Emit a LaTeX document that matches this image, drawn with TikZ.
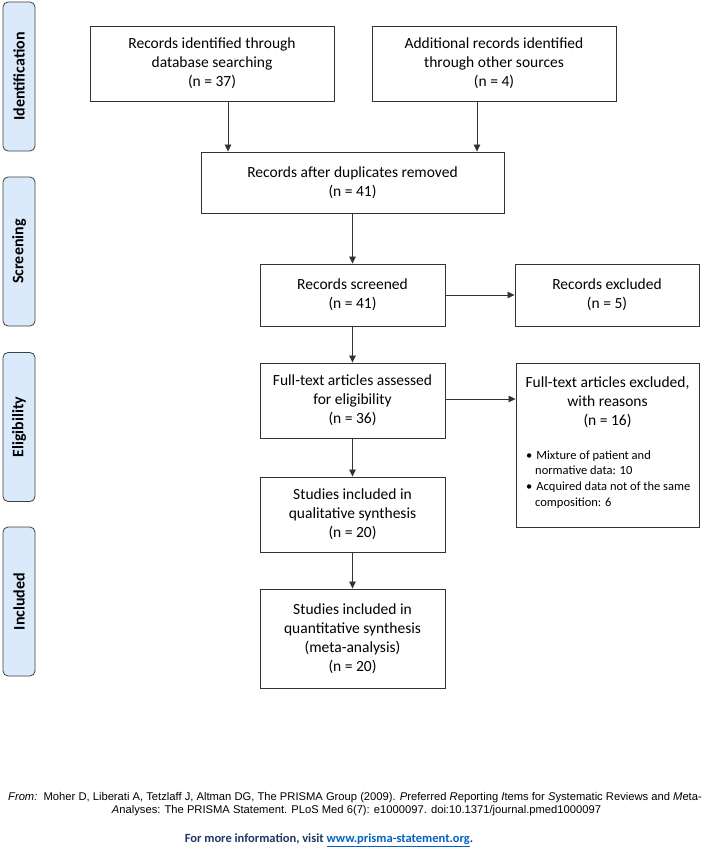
\documentclass[tikz,border=0pt]{standalone}
\usepackage{fontspec}
\setmainfont{Carlito}
\newfontfamily\arialf{Liberation Sans}
\usetikzlibrary{arrows.meta}
\definecolor{phasefill}{RGB}{218,234,251}
\definecolor{navy}{RGB}{31,56,100}
\definecolor{linkblue}{RGB}{5,99,193}
\begin{document}
\begin{tikzpicture}[x=1pt,y=-1pt,
  box/.style={draw=black!80, line width=0.9pt, fill=white, align=center,
    font=\fontsize{15.5}{19}\selectfont, inner sep=0pt},
  phasebox/.style={draw=black!75, line width=0.8pt, fill=phasefill, rounded corners=5pt,
    minimum width=32pt, minimum height=149pt, inner sep=0pt},
  phasetext/.style={rotate=90, font=\bfseries\fontsize{16}{18}\selectfont},
  arr/.style={-{Triangle[length=7pt,width=6.5pt]}, line width=0.8pt, draw=black!80}]
\useasboundingbox[fill=white] (0,0) rectangle (704,848);

% phase labels
\node[phasebox] (p1) at (19,76.5) {};
\node[phasetext] (p1t) at (p1) {Identification};
\node[phasebox] (p2) at (19,251.5) {};
\node[phasetext] (p2t) at (p2) {Screening};
\node[phasebox] (p3) at (19,427) {};
\node[phasetext] (p3t) at (p3) {Eligibility};
\node[phasebox] (p4) at (19,601.5) {};
\node[phasetext] (p4t) at (p4) {Included};

% boxes
\node[box, minimum width=244pt, minimum height=75pt] (A) at (212,63.5)
  {Records identified through\\database searching\\(n = 37)};
\node[box, minimum width=244pt, minimum height=75pt] (B) at (494,63.5)
  {Additional records identified\\through other sources\\(n = 4)};
\node[box, minimum width=303pt, minimum height=61pt] (C) at (352.5,182.5)
  {Records after duplicates removed\\(n = 41)};
\node[box, minimum width=185pt, minimum height=62pt] (D) at (352.5,295)
  {Records screened\\(n = 41)};
\node[box, minimum width=184pt, minimum height=62pt] (E) at (607,295)
  {Records excluded\\(n = 5)};
\node[box, minimum width=185pt, minimum height=75pt] (F) at (352.5,400.5)
  {Full-text articles assessed\\for eligibility\\(n = 36)};
\node[box, minimum width=183pt, minimum height=164pt] (G) at (607.5,445) {};
\node[align=center, font=\fontsize{15.5}{19}\selectfont, inner sep=0pt] (Gt) at (607.5,402)
  {Full-text articles excluded,\\with reasons\\(n = 16)};
\node[align=left, anchor=west, font=\fontsize{12.5}{15.7}\selectfont, inner sep=0pt] (Gb) at (526,479.5)
  {\textbullet\hspace{4pt}Mixture of patient and\\
   \hspace*{9pt}normative data: 10\\
   \textbullet\hspace{4pt}Acquired data not of the same\\
   \hspace*{9pt}composition: 6};
\node[box, minimum width=185pt, minimum height=75pt] (H) at (352.5,514.5)
  {Studies included in\\qualitative synthesis\\(n = 20)};
\node[box, minimum width=185pt, minimum height=99pt] (I) at (352.5,638.5)
  {Studies included in\\quantitative synthesis\\(meta-analysis)\\(n = 20)};

% connectors
\draw[arr] ([xshift=16pt]A.south) -- ([xshift=16pt]A.south |- C.north);
\draw[arr] ([xshift=-17pt]B.south) -- ([xshift=-17pt]B.south |- C.north);
\draw[arr] (C.south) -- (D.north);
\draw[arr] (D.east) -- (E.west);
\draw[arr] (D.south) -- (F.north);
\draw[arr] ([yshift=1.5pt]F.east) -- ([yshift=1.5pt]F.east -| G.west);
\draw[arr] (F.south) -- (H.north);
\draw[arr] (H.south) -- (I.north);

% footnote
\node[anchor=west, inner sep=0pt, font=\arialf\fontsize{11.2}{13}\selectfont] (f1) at (8,798)
  {\textit{From:}\ \ Moher D, Liberati A, Tetzlaff J, Altman DG, The PRISMA Group (2009). \textit{P}referred \textit{R}eporting \textit{I}tems for \textit{S}ystematic Reviews and \textit{M}eta-};
\node[inner sep=0pt, font=\arialf\fontsize{11.2}{13}\selectfont] (f2) at (356.5,811)
  {\textit{A}nalyses: The PRISMA Statement. PLoS Med 6(7): e1000097. doi:10.1371/journal.pmed1000097};
\node[inner sep=0pt, font=\bfseries\fontsize{12.5}{14}\selectfont, text=navy] (f3) at (329,840)
  {For more information, visit \textcolor{linkblue}{\underline{www.prisma-statement.org}}.};
\end{tikzpicture}
\end{document}
